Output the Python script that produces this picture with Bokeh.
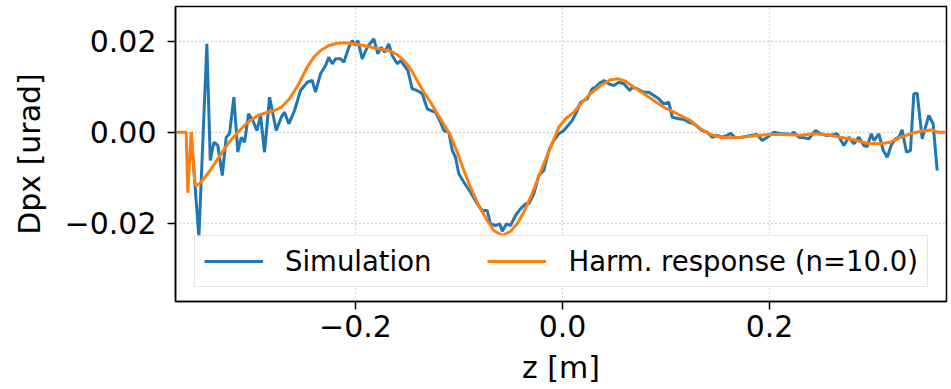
from bokeh.plotting import figure
from bokeh.models import Range1d, FixedTicker, Legend, LegendItem
from bokeh.embed import file_html
from bokeh.resources import INLINE

# Simulation (blue) samples: z [m], Dpx [urad]
sim_z = [
    -0.3589, -0.3513, -0.3436, -0.3403, -0.3368, -0.3330, -0.3287, -0.3249, -0.3217, -0.3175,
    -0.3137, -0.3104, -0.3072, -0.3033, -0.2992, -0.2953, -0.2917, -0.2879, -0.2830, -0.2766,
    -0.2717, -0.2685, -0.2644, -0.2589, -0.2531, -0.2466, -0.2418, -0.2386, -0.2338, -0.2289,
    -0.2258, -0.2225, -0.2193, -0.2145, -0.2113, -0.2064, -0.2031, -0.2000, -0.1977, -0.1935,
    -0.1887, -0.1823, -0.1784, -0.1751, -0.1719, -0.1678, -0.1645, -0.1597, -0.1565, -0.1517,
    -0.1494, -0.1452, -0.1404, -0.1355, -0.1307, -0.1275, -0.1227, -0.1179, -0.1147, -0.1098,
    -0.1065, -0.1034, -0.1002, -0.0953, -0.0889, -0.0824, -0.0776, -0.0727, -0.0696, -0.0647,
    -0.0606, -0.0582, -0.0541, -0.0502, -0.0454, -0.0406, -0.0357, -0.0326, -0.0277, -0.0229,
    -0.0181, -0.0132, -0.0084, -0.0036, 0.0013, 0.0094, 0.0142, 0.0174, 0.0239, 0.0287,
    0.0319, 0.0351, 0.0399, 0.0447, 0.0496, 0.0544, 0.0592, 0.0650, 0.0673, 0.0722,
    0.0785, 0.0834, 0.0882, 0.0930, 0.0979, 0.1027, 0.1060, 0.1123, 0.1172, 0.1220,
    0.1268, 0.1350, 0.1398, 0.1446, 0.1494, 0.1543, 0.1591, 0.1623, 0.1671, 0.1736,
    0.1816, 0.1881, 0.1929, 0.1978, 0.2042, 0.2106, 0.2155, 0.2203, 0.2235, 0.2283,
    0.2331, 0.2380, 0.2444, 0.2493, 0.2557, 0.2606, 0.2654, 0.2718, 0.2766, 0.2814,
    0.2863, 0.2911, 0.2944, 0.2983, 0.3008, 0.3056, 0.3099, 0.3137, 0.3175, 0.3217,
    0.3249, 0.3281, 0.3323, 0.3362, 0.3394, 0.3427, 0.3475, 0.3539, 0.3581, 0.3620,
]
sim_dpx = [
    0.0, -0.02308, 0.01943, -0.00622, -0.00220, -0.00292, -0.00952, -0.00110, -0.00035, 0.00769,
    -0.00440, -0.00110, -0.00220, 0.00404, 0.00257, 0.00037, 0.00367, -0.00440, 0.00769, 0.00037,
    0.00330, 0.00440, 0.00185, 0.00477, 0.00916, 0.01099, 0.01136, 0.00879, 0.01284, 0.01466,
    0.01648, 0.01503, 0.01613, 0.01613, 0.01538, 0.01868, 0.02015, 0.01905, 0.02015, 0.01613,
    0.01868, 0.02053, 0.01723, 0.01868, 0.01758, 0.01943, 0.01686, 0.01503, 0.01576, 0.01429,
    0.01356, 0.00954, 0.00916, 0.00844, 0.00514, 0.00477, 0.00440, 0.00220, 0.00037, 0.0,
    -0.00402, -0.00549, -0.00914, -0.01099, -0.01319, -0.01574, -0.01721, -0.01721, -0.02013, -0.02051,
    -0.02013, -0.02176, -0.02013, -0.02051, -0.01831, -0.01684, -0.01574, -0.01574, -0.01354, -0.00952,
    -0.00842, -0.00402, -0.00182, -0.00035, 0.00037, 0.00257, 0.00477, 0.00659, 0.00734, 0.00954,
    0.00989, 0.01064, 0.01136, 0.01064, 0.01026, 0.01099, 0.01064, 0.00916, 0.00989, 0.00954,
    0.00879, 0.00879, 0.00807, 0.00734, 0.00624, 0.00659, 0.00330, 0.00295, 0.00279, 0.00220,
    0.00185, 0.00037, 0.0, -0.00110, -0.00073, -0.00110, -0.00073, -0.00022, -0.00123, -0.00110,
    -0.00073, -0.00051, -0.00182, -0.00110, 0.0, -0.00035, -0.00035, -0.00051, 0.0, -0.00110,
    -0.00123, -0.00145, 0.00037, -0.00035, -0.00073, -0.00057, -0.00035, -0.00292, -0.00110, -0.00255,
    -0.00110, -0.00292, -0.00314, -0.00035, -0.00182, -0.00035, -0.00402, -0.00549, -0.00292, -0.00145,
    -0.00110, 0.00053, -0.00440, -0.00402, 0.00844, 0.00857, -0.00145, 0.00367, 0.00185, -0.00842,
]

# Harmonic response (orange)
harm_z = [
    -0.3739, -0.3636, -0.3620, -0.3587, -0.3549, -0.3507, -0.3427, -0.3330, -0.3233, -0.3137,
    -0.3040, -0.2944, -0.2847, -0.2782, -0.2717, -0.2637, -0.2557, -0.2466, -0.2403, -0.2338,
    -0.2258, -0.2177, -0.2097, -0.2016, -0.1920, -0.1823, -0.1727, -0.1662, -0.1597, -0.1533,
    -0.1469, -0.1404, -0.1340, -0.1275, -0.1179, -0.1082, -0.1017, -0.0953, -0.0889, -0.0809,
    -0.0727, -0.0664, -0.0582, -0.0502, -0.0438, -0.0374, -0.0309, -0.0244, -0.0181, -0.0116,
    -0.0036, 0.0029, 0.0109, 0.0190, 0.0270, 0.0367, 0.0464, 0.0544, 0.0609, 0.0689,
    0.0785, 0.0882, 0.0979, 0.1075, 0.1140, 0.1236, 0.1333, 0.1430, 0.1526, 0.1623,
    0.1719, 0.1816, 0.1913, 0.2009, 0.2106, 0.2203, 0.2299, 0.2428, 0.2557, 0.2686,
    0.2814, 0.2944, 0.3072, 0.3169, 0.3266, 0.3362, 0.3459, 0.3572, 0.3620, 0.3710,
]
harm_dpx = [
    0.0, 0.0, -0.01332, 0.0, -0.01171, -0.01134, -0.00914, -0.00585, -0.00255, 0.0,
    0.00220, 0.00367, 0.00440, 0.00477, 0.00549, 0.00734, 0.01026, 0.01429, 0.01648, 0.01796,
    0.01905, 0.01956, 0.01965, 0.01943, 0.01905, 0.01855, 0.01811, 0.01780, 0.01708, 0.01576,
    0.01393, 0.01136, 0.00879, 0.00659, 0.00295, -0.00073, -0.00440, -0.00842, -0.01209, -0.01611,
    -0.01941, -0.02160, -0.02270, -0.02176, -0.02013, -0.01758, -0.01429, -0.01062, -0.00695, -0.00330,
    0.00110, 0.00295, 0.00440, 0.00659, 0.00844, 0.01026, 0.01152, 0.01174, 0.01121, 0.00989,
    0.00844, 0.00697, 0.00549, 0.00440, 0.00367, 0.00257, 0.00075, -0.00051, -0.00110, -0.00123,
    -0.00110, -0.00088, -0.00066, -0.00051, -0.00051, -0.00057, -0.00066, -0.00035, -0.00057, -0.00110,
    -0.00167, -0.00242, -0.00255, -0.00220, -0.00110, -0.00035, 0.00022, 0.00053, 0.0, 0.0,
]

x_ticks = [-0.2, 0.0, 0.2]
x_tick_labels = ["\u22120.2", "0.0", "0.2"]
y_ticks = [-0.02, 0.0, 0.02]
y_tick_labels = ["\u22120.02", "0.00", "0.02"]

FONT = "DejaVu Sans"

p = figure(width=948, height=389, output_backend="svg", toolbar_location=None,
           x_range=Range1d(-0.3739, 0.3710), y_range=Range1d(-0.03721, 0.02763),
           min_border_left=175, min_border_right=2, min_border_top=6, min_border_bottom=88,
           background_fill_color="white", border_fill_color="white")

r1 = p.line(sim_z, sim_dpx, line_color="#1f77b4", line_width=3)
r2 = p.line(harm_z, harm_dpx, line_color="#ff7f0e", line_width=3)

p.xaxis.ticker = FixedTicker(ticks=x_ticks)
p.yaxis.ticker = FixedTicker(ticks=y_ticks)
p.xaxis.major_label_overrides = dict(zip(x_ticks, x_tick_labels))
p.yaxis.major_label_overrides = dict(zip(y_ticks, y_tick_labels))
p.xaxis.axis_label = "z [m]"
p.yaxis.axis_label = "Dpx [urad]"

for ax in (p.xaxis, p.yaxis):
    ax.major_label_text_font = FONT
    ax.major_label_text_font_size = "30px"
    ax.major_label_text_color = "black"
    ax.axis_label_text_font = FONT
    ax.axis_label_text_font_size = "30px"
    ax.axis_label_text_font_style = "normal"
    ax.axis_label_text_color = "black"
    ax.major_tick_out = 8
    ax.major_tick_in = 0
    ax.minor_tick_out = 0
    ax.minor_tick_in = 0
    ax.major_tick_line_color = "black"
    ax.major_tick_line_width = 1.5
    ax.axis_line_color = "black"
    ax.axis_line_width = 1.5

p.xaxis.major_label_standoff = 5
p.xaxis.axis_label_standoff = 10
p.yaxis.major_label_standoff = 11
p.yaxis.axis_label_standoff = 15

p.grid.grid_line_color = "#b0b0b0"
p.grid.grid_line_dash = "1 3"
p.grid.grid_line_width = 1.3

p.outline_line_color = "black"
p.outline_line_width = 1.5
p.outline_line_alpha = 1.0

legend = Legend(items=[LegendItem(label="Simulation", renderers=[r1]),
                       LegendItem(label="Harm. response (n=10.0)", renderers=[r2])],
                location=(19, 14), orientation="horizontal",
                label_text_font=FONT, label_text_font_size="27.5px", label_text_color="black",
                glyph_width=59, glyph_height=28, label_standoff=22, spacing=56,
                padding=9, margin=0,
                border_line_color="#cccccc", border_line_width=1.5,
                background_fill_color="white", background_fill_alpha=0.8)
p.add_layout(legend)

with open("out.html", "w") as f:
    f.write(file_html(p, INLINE))
